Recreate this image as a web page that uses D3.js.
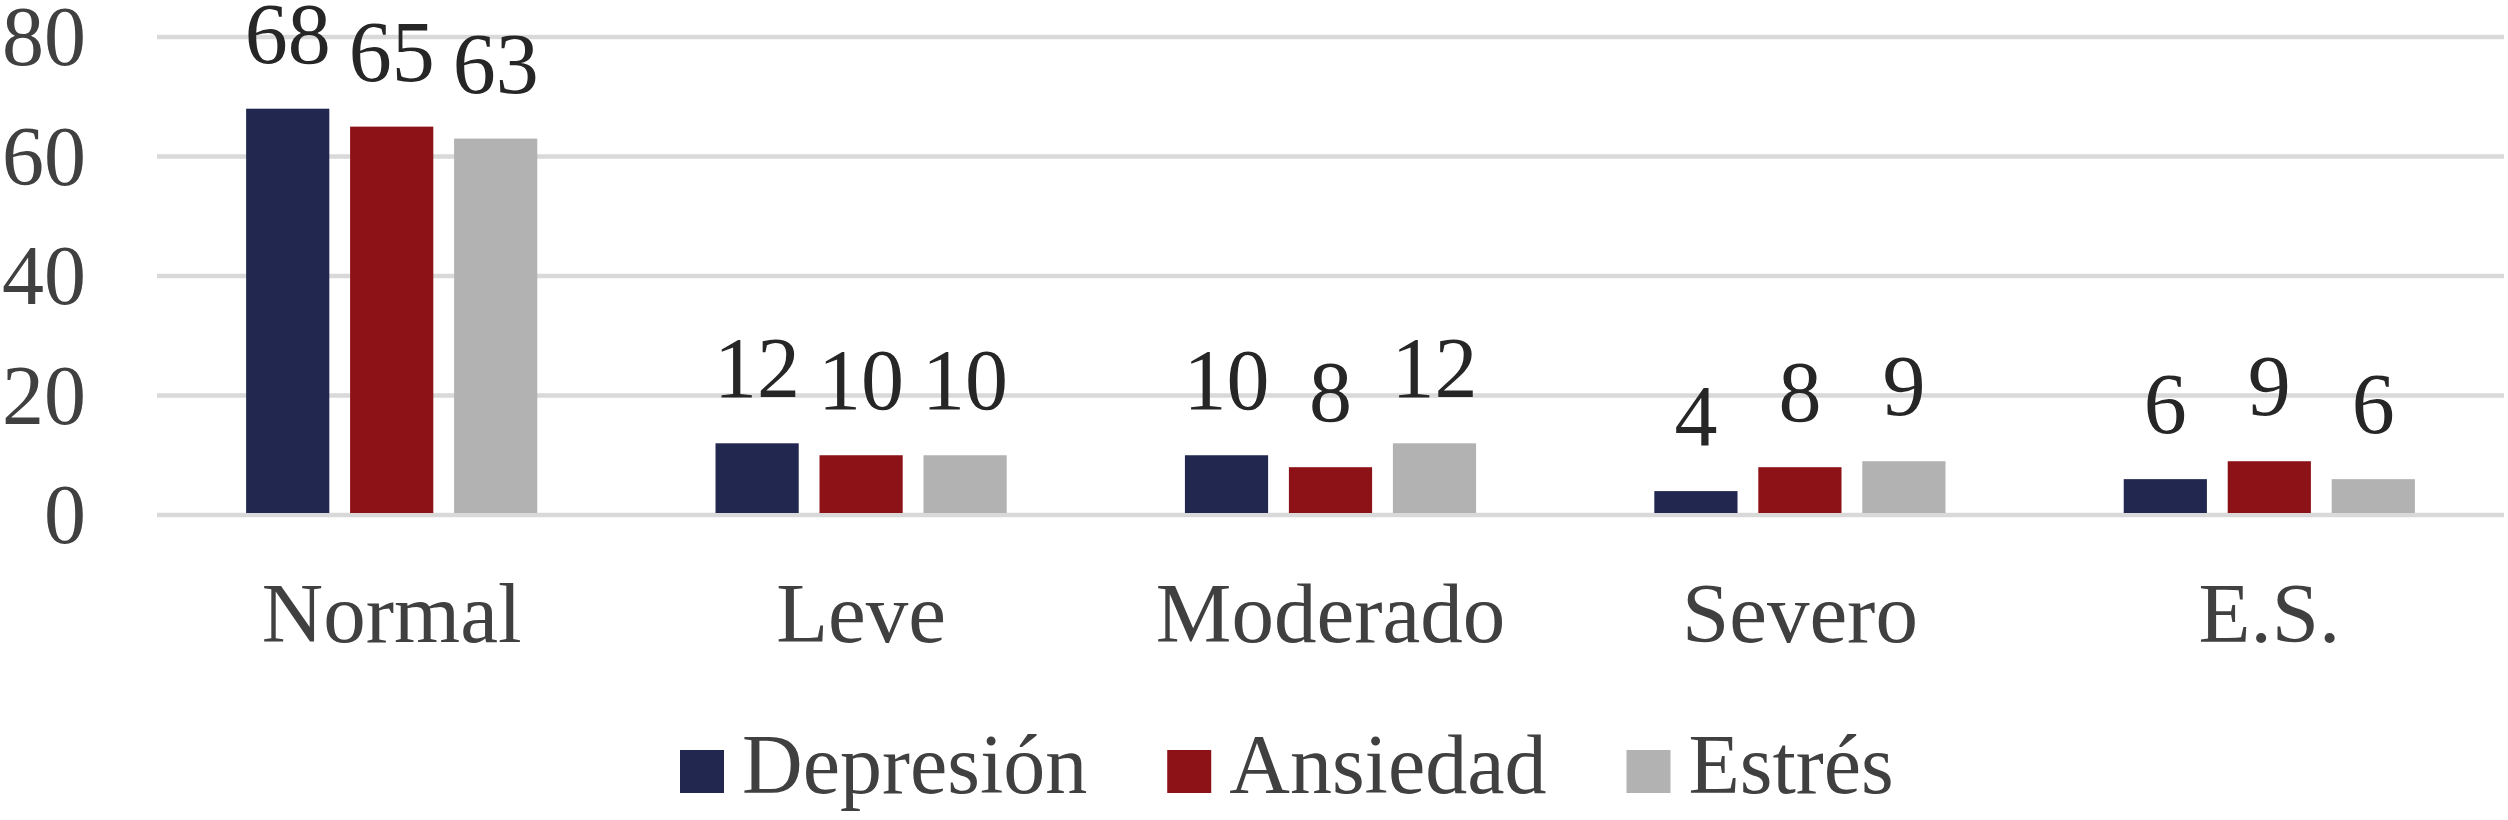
<!DOCTYPE html>
<html>
<head>
<meta charset="utf-8">
<script src="https://cdn.jsdelivr.net/npm/d3@7"></script>
<style>
  html, body { margin: 0; padding: 0; background: #ffffff; }
  svg { display: block; }
  text { font-family: "Liberation Serif", "Times New Roman", serif; }
</style>
</head>
<body>
<svg id="chart" width="2508" height="820"></svg>
<script>
const categories = ["Normal", "Leve", "Moderado", "Severo", "E.S."];
const seriesNames = ["Depresión", "Ansiedad", "Estrés"];
const depresion = [68, 12, 10, 4, 6];
const ansiedad = [65, 10, 8, 8, 9];
const estres = [63, 10, 12, 9, 6];
const yTicks = [0, 20, 40, 60, 80];
const colors = ["#21274f", "#8d1217", "#b2b2b2"];

(function () {
const seriesValues = [depresion, ansiedad, estres];
const rows = categories.map((c, i) => ({
  cat: c,
  vals: seriesNames.map((s, j) => ({ key: s, value: seriesValues[j][i], color: colors[j] }))
}));

const svg = d3.select("#chart");
const mLeft = 157, mRight = 2504, mTop = 37, mBottom = 515;

const x0 = d3.scaleBand().domain(categories).range([mLeft, mRight]).paddingInner(0).paddingOuter(0);
const x1 = d3.scaleBand().domain(seriesNames).range([0, x0.bandwidth()]).paddingInner(0.2).paddingOuter(0.857);
const y = d3.scaleLinear().domain([0, 80]).range([mBottom, mTop]);

// gridlines
svg.append("g").selectAll("line").data(yTicks).join("line")
  .attr("x1", mLeft).attr("x2", mRight)
  .attr("y1", d => y(d)).attr("y2", d => y(d))
  .attr("stroke", "#d9d9d9").attr("stroke-width", 4.5);

// y tick labels
const yAxis = d3.axisLeft(y).tickValues(yTicks).tickSize(0).tickPadding(0);
const ga = svg.append("g").attr("transform", `translate(86,0)`).call(yAxis);
ga.select(".domain").remove();
ga.selectAll("text")
  .attr("font-family", "Liberation Serif, Times New Roman, serif")
  .attr("font-size", 84).attr("fill", "#404040").attr("dy", "0.33em");

// bars
const groups = svg.append("g").selectAll("g").data(rows).join("g")
  .attr("transform", d => `translate(${x0(d.cat)},0)`);
groups.selectAll("rect").data(d => d.vals).join("rect")
  .attr("x", d => x1(d.key)).attr("width", x1.bandwidth())
  .attr("y", d => y(d.value)).attr("height", d => y(0) - y(d.value) - 2)
  .attr("fill", d => d.color);

// data labels
groups.selectAll("text.val").data(d => d.vals).join("text")
  .attr("class", "val")
  .attr("x", d => x1(d.key) + x1.bandwidth() / 2)
  .attr("y", d => y(d.value) - 46)
  .attr("text-anchor", "middle")
  .attr("font-size", 86).attr("fill", "#262626")
  .text(d => d.value);

// x axis labels
const xAxis = d3.axisBottom(x0).tickSize(0).tickPadding(0);
const gx = svg.append("g").attr("transform", `translate(0,642)`).call(xAxis);
gx.select(".domain").remove();
gx.selectAll("text")
  .attr("font-family", "Liberation Serif, Times New Roman, serif")
  .attr("font-size", 85).attr("fill", "#404040").attr("dy", 0);

// legend
const legend = svg.append("g");
const legendY = 793;
let lx = 680;
seriesNames.forEach((s, i) => {
  legend.append("rect").attr("x", lx).attr("y", legendY - 43).attr("width", 44).attr("height", 43).attr("fill", colors[i]);
  const t = legend.append("text").attr("x", lx + 62).attr("y", legendY)
    .attr("font-size", 84).attr("fill", "#404040").text(s);
  const w = t.node().getComputedTextLength();
  lx = lx + 62 + w + 80;
});
})();
</script>
</body>
</html>
